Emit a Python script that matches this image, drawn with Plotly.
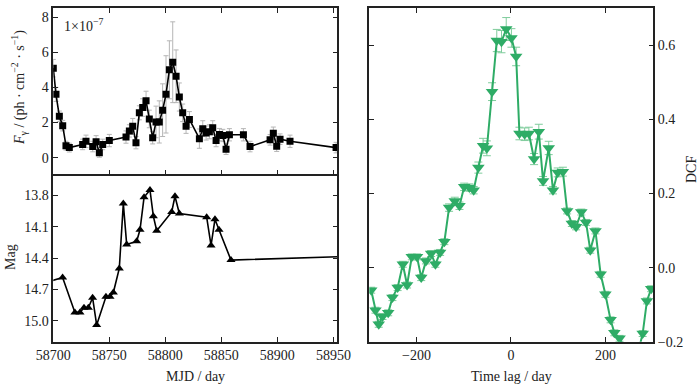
import plotly.graph_objects as go

# ---- Fermi gamma-ray flux (units of 1e-7 ph cm^-2 s^-1)
flux_mjd = [58700, 58702.4, 58705.4, 58708.4, 58711.3, 58714.3, 58726.2, 58729.2, 58735.2, 58738.2,
            58741.1, 58744.1, 58750, 58764.9, 58767.9, 58770.9, 58773.8, 58776.8, 58779.8, 58782.8,
            58785.7, 58788.7, 58791.7, 58794.6, 58797.6, 58800.6, 58803.6, 58806.6, 58809.6, 58812.5,
            58815.5, 58818.5, 58821.5, 58830.4, 58833.4, 58836.4, 58839.3, 58842.3, 58845.3, 58848.3,
            58851.3, 58854.2, 58857.2, 58869.7, 58875.6, 58893.5, 58896.4, 58899.4, 58902.4, 58911.3,
            58952.4]
flux_val = [5.09, 3.6, 2.35, 1.82, 0.68, 0.57, 0.75, 0.93, 0.63, 0.9,
            0.27, 0.75, 0.97, 1.17, 1.52, 1.78, 0.85, 2.55, 2.85, 3.23,
            2.2, 1.13, 2.03, 2.03, 2.7, 3.6, 5.0, 5.43, 4.63, 3.45,
            2.55, 1.78, 2.17, 1.08, 1.65, 1.4, 1.47, 1.7, 0.97, 1.31,
            1.26, 0.48, 1.30, 1.30, 0.63, 1.01, 1.39, 0.65, 1.05, 0.93,
            0.57]
flux_err = [0.5, 0.4, 0.3, 0.3, 0.25, 0.25, 0.3, 0.35, 0.3, 0.35,
            0.25, 0.3, 0.35, 0.35, 0.35, 0.45, 0.35, 0.4, 0.5, 0.55,
            0.5, 0.35, 0.9, 1.2, 1.5, 2.2, 1.65, 2.3, 1.5, 0.8,
            0.5, 0.4, 0.45, 0.55, 0.45, 0.4, 0.4, 0.4, 0.35, 0.35,
            0.35, 0.3, 0.35, 0.35, 0.3, 0.3, 0.35, 0.3, 0.3, 0.35,
            0.3]

# ---- Optical magnitude
mag_mjd = [58690, 58708.3, 58719.3, 58723.8, 58727.4, 58731.3, 58735.1, 58738.7, 58747, 58750.6,
           58753.6, 58758.9, 58762.5, 58765.5, 58774.4, 58777.4, 58781, 58786.3, 58789.3, 58792.3,
           58805.7, 58808.6, 58812.5, 58836.9, 58840.8, 58844.3, 58847.9, 58858.6, 58962]
mag_val = [14.645, 14.586, 14.92, 14.92, 14.876, 14.876, 14.78, 15.04, 14.77, 14.77,
           14.73, 14.50, 13.88, 14.27, 14.24, 14.13, 13.82, 13.75, 14.0, 14.14,
           13.96, 13.81, 13.975, 14.01, 14.28, 14.03, 14.13, 14.42, 14.385]

# ---- Discrete correlation function
lag = [-296, -287, -280, -272, -260, -251, -240, -229, -220, -210,
       -199, -190, -180, -169, -160, -150, -141, -131, -119, -109,
       -99, -88, -79, -69, -59, -51, -40, -30, -20, -10,
       1, 11, 18, 29, 38, 49, 59, 68, 80, 89,
       99, 110, 119, 129, 138, 149, 159, 168, 179, 190,
       200, 211, 219, 230, 240, 250, 260, 270, 279, 288,
       297]
dcf = [-0.061, -0.115, -0.153, -0.132, -0.122, -0.081, -0.054, 0.009, -0.047, 0.029,
       0.029, -0.027, 0.018, 0.038, 0.009, 0.041, 0.070, 0.162, 0.180, 0.167,
       0.218, 0.216, 0.209, 0.270, 0.329, 0.322, 0.475, 0.613, 0.610, 0.644,
       0.620, 0.570, 0.362, 0.360, 0.362, 0.293, 0.367, 0.234, 0.323, 0.209,
       0.257, 0.259, 0.153, 0.119, 0.110, 0.150, 0.122, 0.047, 0.099, -0.018,
       -0.072, -0.141, -0.176, -0.191, -0.215, -0.24, -0.245, -0.225, -0.178, -0.090,
       -0.057]
dcf_err = [0.008, 0.008, 0.008, 0.008, 0.008, 0.008, 0.008, 0.008, 0.008, 0.008,
           0.008, 0.008, 0.008, 0.008, 0.008, 0.008, 0.008, 0.01, 0.01, 0.01,
           0.01, 0.01, 0.01, 0.015, 0.02, 0.02, 0.024, 0.03, 0.03, 0.031,
           0.025, 0.025, 0.017, 0.017, 0.017, 0.015, 0.02, 0.012, 0.018, 0.01,
           0.012, 0.012, 0.008, 0.008, 0.008, 0.008, 0.008, 0.008, 0.008, 0.008,
           0.008, 0.008, 0.008, 0.008, 0.008, 0.008, 0.008, 0.008, 0.008, 0.008,
           0.008]

mjd_ticks = [58700, 58750, 58800, 58850, 58900, 58950]
flux_ticks = [0, 2, 4, 6, 8]
mag_ticks = [13.8, 14.1, 14.4, 14.7, 15.0]
lag_ticks = [-200, 0, 200]
dcf_ticks = [-0.2, 0.0, 0.2, 0.4, 0.6]

GREEN = "#2eac66"
FONT = "Liberation Serif"

W, H = 700, 387


def fx(p):
    return p / W


def fy(p):
    return 1 - p / H


fig = go.Figure()

fig.add_trace(go.Scatter(
    x=flux_mjd, y=flux_val, mode="lines+markers", xaxis="x", yaxis="y",
    line=dict(color="black", width=1.6),
    marker=dict(symbol="square", size=7, color="black"),
    error_y=dict(type="data", array=flux_err, color="#b5b5b5", thickness=1, width=2.5),
    showlegend=False))

fig.add_trace(go.Scatter(
    x=mag_mjd, y=mag_val, mode="lines+markers", xaxis="x2", yaxis="y2",
    line=dict(color="black", width=1.6),
    marker=dict(symbol="triangle-up", size=8, color="black"),
    showlegend=False))

fig.add_trace(go.Scatter(
    x=lag, y=dcf, mode="lines+markers", xaxis="x3", yaxis="y3",
    line=dict(color=GREEN, width=2),
    marker=dict(symbol="triangle-down", size=11, color=GREEN),
    error_y=dict(type="data", array=dcf_err, color="#7fcc9c", thickness=1, width=4),
    showlegend=False))

L0, L1 = fx(53.3), fx(337.3)
R0, R1 = fx(369.3), fx(653.3)
YT = fy(8.3)
YM = fy(174.3)
YB = fy(341.7)

common = dict(showline=True, linecolor="#222", linewidth=1.5, ticks="inside", ticklen=5,
              tickwidth=1.3, tickcolor="#222", showgrid=False, zeroline=False, automargin=False,
              tickfont=dict(family=FONT, size=14, color="#222"))

fig.update_layout(
    width=W, height=H, margin=dict(l=0, r=0, t=0, b=0),
    paper_bgcolor="white", plot_bgcolor="white",
    font=dict(family=FONT, size=14, color="#222"),
    xaxis=dict(domain=[L0, L1], anchor="y", range=[58700, 58953.5], tickvals=mjd_ticks,
               showticklabels=False, mirror="allticks", **common),
    yaxis=dict(domain=[YM, YT], anchor="x", range=[-0.95, 8.5], tickvals=flux_ticks,
               mirror="allticks", **common),
    xaxis2=dict(domain=[L0, L1], anchor="y2", range=[58700, 58953.5], tickvals=mjd_ticks,
                tickformat="d", mirror=False, **common),
    yaxis2=dict(domain=[YB, YM], anchor="x2", range=[15.2, 13.6], tickvals=mag_ticks,
                tickformat=".1f", mirror="allticks", **common),
    xaxis3=dict(domain=[R0, R1], anchor="y3", range=[-300, 301.5], tickvals=lag_ticks,
                mirror="allticks", **common),
    yaxis3=dict(domain=[YB, YT], anchor="x3", side="right", range=[-0.2, 0.7],
                tickvals=dcf_ticks, tickformat=".1f", mirror="allticks", **common),
)

ann = dict(showarrow=False, xref="paper", yref="paper", xanchor="center", yanchor="middle",
           font=dict(family=FONT, size=14, color="#222"))
fig.add_annotation(x=fx(19), y=fy(88), textangle=-90,
                   text="<i>F</i><sub>γ</sub> / (ph · cm<sup>−2</sup> · s<sup>−1</sup>)", **ann)
fig.add_annotation(x=fx(10), y=fy(257), textangle=-90, text="Mag", **ann)
fig.add_annotation(x=fx(195), y=fy(376), text="MJD / day", **ann)
fig.add_annotation(x=fx(511), y=fy(376), text="Time lag / day", **ann)
fig.add_annotation(x=fx(691), y=fy(170), textangle=-90, text="DCF", **ann)
fig.add_annotation(x=fx(83), y=fy(25), text="1×10<sup>−7</sup>", **ann)

# remove the browser's default 8px body margin so the figure sits at the window origin
fig.write_html("out.html", config={"displayModeBar": False},
               post_script="document.body.style.margin='0px';")
